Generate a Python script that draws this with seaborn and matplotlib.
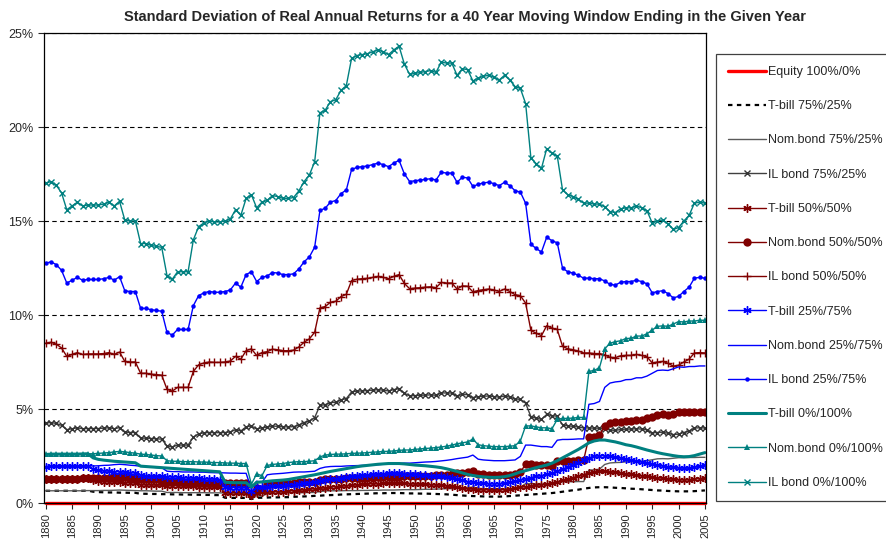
import matplotlib
matplotlib.use("Agg")
import matplotlib.pyplot as plt
import pandas as pd
import seaborn as sns
from matplotlib.ticker import FuncFormatter, MultipleLocator

years = list(range(1880, 2006))

# --- values (percent) ---
equity_100_0 = [
    0, 0, 0, 0, 0, 0, 0, 0, 0, 0,
    0, 0, 0, 0, 0, 0, 0, 0, 0, 0,
    0, 0, 0, 0, 0, 0, 0, 0, 0, 0,
    0, 0, 0, 0, 0, 0, 0, 0, 0, 0,
    0, 0, 0, 0, 0, 0, 0, 0, 0, 0,
    0, 0, 0, 0, 0, 0, 0, 0, 0, 0,
    0, 0, 0, 0, 0, 0, 0, 0, 0, 0,
    0, 0, 0, 0, 0, 0, 0, 0, 0, 0,
    0, 0, 0, 0, 0, 0, 0, 0, 0, 0,
    0, 0, 0, 0, 0, 0, 0, 0, 0, 0,
    0, 0, 0, 0, 0, 0, 0, 0, 0, 0,
    0, 0, 0, 0, 0, 0, 0, 0, 0, 0,
    0, 0, 0, 0, 0, 0,
]

tbill_75_25 = [
    0.65, 0.65, 0.65, 0.65, 0.65, 0.65, 0.65, 0.65, 0.66, 0.60,
    0.58, 0.57, 0.56, 0.56, 0.55, 0.55, 0.54, 0.54, 0.49, 0.49,
    0.48, 0.48, 0.47, 0.47, 0.46, 0.46, 0.45, 0.45, 0.44, 0.44,
    0.43, 0.43, 0.42, 0.42, 0.28, 0.27, 0.27, 0.27, 0.27, 0.21,
    0.28, 0.28, 0.29, 0.30, 0.30, 0.31, 0.31, 0.33, 0.34, 0.35,
    0.36, 0.38, 0.39, 0.41, 0.42, 0.43, 0.45, 0.46, 0.47, 0.48,
    0.49, 0.50, 0.51, 0.52, 0.52, 0.53, 0.53, 0.53, 0.52, 0.51,
    0.51, 0.50, 0.50, 0.49, 0.48, 0.47, 0.46, 0.44, 0.42, 0.40,
    0.38, 0.37, 0.36, 0.35, 0.34, 0.34, 0.34, 0.35, 0.37, 0.39,
    0.41, 0.43, 0.45, 0.47, 0.49, 0.51, 0.53, 0.56, 0.60, 0.64,
    0.68, 0.71, 0.76, 0.80, 0.83, 0.84, 0.84, 0.83, 0.81, 0.80,
    0.78, 0.76, 0.75, 0.73, 0.71, 0.69, 0.67, 0.66, 0.64, 0.63,
    0.62, 0.62, 0.62, 0.63, 0.65, 0.67,
]

nombond_75_25 = [
    0.65, 0.65, 0.65, 0.65, 0.65, 0.65, 0.65, 0.65, 0.66, 0.66,
    0.66, 0.67, 0.67, 0.68, 0.69, 0.68, 0.67, 0.66, 0.65, 0.65,
    0.64, 0.63, 0.63, 0.56, 0.56, 0.56, 0.55, 0.55, 0.55, 0.55,
    0.55, 0.54, 0.54, 0.54, 0.53, 0.53, 0.53, 0.53, 0.53, 0.25,
    0.39, 0.36, 0.50, 0.51, 0.52, 0.53, 0.54, 0.55, 0.55, 0.55,
    0.56, 0.56, 0.61, 0.64, 0.65, 0.65, 0.65, 0.66, 0.66, 0.66,
    0.67, 0.67, 0.68, 0.68, 0.69, 0.69, 0.69, 0.70, 0.71, 0.71,
    0.71, 0.72, 0.73, 0.73, 0.74, 0.75, 0.76, 0.77, 0.79, 0.80,
    0.81, 0.85, 0.78, 0.76, 0.76, 0.75, 0.75, 0.75, 0.76, 0.76,
    0.83, 1.03, 1.03, 1.01, 1.00, 1.00, 0.99, 1.11, 1.13, 1.13,
    1.13, 1.14, 1.14, 1.75, 1.76, 1.80, 2.05, 2.13, 2.15, 2.16,
    2.19, 2.19, 2.22, 2.22, 2.25, 2.30, 2.35, 2.36, 2.35, 2.38,
    2.41, 2.41, 2.42, 2.42, 2.43, 2.43,
]

ilbond_75_25 = [
    4.25, 4.28, 4.23, 4.13, 3.90, 3.95, 4.00, 3.95, 3.96, 3.96,
    3.96, 3.98, 4.00, 3.95, 4.01, 3.76, 3.75, 3.75, 3.45, 3.45,
    3.43, 3.41, 3.40, 3.03, 2.98, 3.08, 3.08, 3.08, 3.50, 3.68,
    3.73, 3.75, 3.74, 3.74, 3.75, 3.78, 3.90, 3.83, 4.05, 4.10,
    3.93, 4.00, 4.03, 4.09, 4.08, 4.05, 4.05, 4.06, 4.15, 4.28,
    4.36, 4.54, 5.19, 5.23, 5.34, 5.36, 5.49, 5.55, 5.91, 5.95,
    5.96, 5.98, 6.00, 6.03, 6.00, 5.96, 6.03, 6.08, 5.84, 5.70,
    5.71, 5.73, 5.74, 5.75, 5.73, 5.86, 5.85, 5.85, 5.69, 5.78,
    5.76, 5.61, 5.65, 5.68, 5.69, 5.66, 5.63, 5.69, 5.63, 5.54,
    5.51, 5.31, 4.59, 4.51, 4.45, 4.71, 4.65, 4.61, 4.16, 4.10,
    4.08, 4.04, 3.99, 3.99, 3.98, 3.98, 3.94, 3.88, 3.86, 3.91,
    3.93, 3.93, 3.95, 3.93, 3.89, 3.73, 3.75, 3.76, 3.71, 3.64,
    3.66, 3.75, 3.83, 3.99, 4.00, 3.99,
]

tbill_50_50 = [
    1.29, 1.30, 1.30, 1.30, 1.30, 1.30, 1.30, 1.31, 1.31, 1.20,
    1.16, 1.14, 1.13, 1.11, 1.10, 1.09, 1.08, 1.07, 0.98, 0.97,
    0.96, 0.95, 0.94, 0.93, 0.92, 0.91, 0.90, 0.89, 0.88, 0.87,
    0.86, 0.85, 0.84, 0.83, 0.55, 0.55, 0.54, 0.54, 0.54, 0.43,
    0.55, 0.56, 0.58, 0.59, 0.60, 0.61, 0.63, 0.65, 0.68, 0.70,
    0.73, 0.75, 0.78, 0.81, 0.84, 0.87, 0.89, 0.92, 0.94, 0.97,
    0.99, 1.00, 1.02, 1.03, 1.04, 1.05, 1.05, 1.05, 1.04, 1.03,
    1.01, 1.00, 0.99, 0.98, 0.96, 0.94, 0.91, 0.88, 0.84, 0.80,
    0.76, 0.73, 0.71, 0.70, 0.69, 0.68, 0.69, 0.70, 0.73, 0.78,
    0.83, 0.86, 0.90, 0.94, 0.98, 1.01, 1.06, 1.13, 1.20, 1.28,
    1.35, 1.43, 1.51, 1.60, 1.65, 1.68, 1.68, 1.65, 1.63, 1.59,
    1.55, 1.53, 1.49, 1.45, 1.41, 1.38, 1.34, 1.31, 1.29, 1.26,
    1.24, 1.23, 1.24, 1.26, 1.30, 1.34,
]

nombond_50_50 = [
    1.29, 1.30, 1.30, 1.30, 1.30, 1.30, 1.30, 1.31, 1.31, 1.31,
    1.32, 1.33, 1.34, 1.36, 1.37, 1.36, 1.34, 1.33, 1.30, 1.29,
    1.28, 1.26, 1.25, 1.13, 1.11, 1.11, 1.10, 1.10, 1.10, 1.09,
    1.09, 1.08, 1.08, 1.08, 1.07, 1.06, 1.06, 1.05, 1.05, 0.50,
    0.78, 0.73, 1.00, 1.03, 1.04, 1.05, 1.08, 1.09, 1.10, 1.10,
    1.11, 1.13, 1.23, 1.28, 1.29, 1.30, 1.30, 1.31, 1.32, 1.33,
    1.33, 1.34, 1.35, 1.36, 1.37, 1.38, 1.39, 1.40, 1.41, 1.41,
    1.43, 1.44, 1.45, 1.46, 1.48, 1.49, 1.51, 1.54, 1.58, 1.60,
    1.63, 1.70, 1.55, 1.53, 1.51, 1.50, 1.50, 1.50, 1.51, 1.53,
    1.65, 2.05, 2.05, 2.03, 2.00, 2.00, 1.98, 2.23, 2.25, 2.25,
    2.26, 2.28, 2.28, 3.50, 3.53, 3.60, 4.10, 4.25, 4.29, 4.32,
    4.38, 4.38, 4.44, 4.44, 4.50, 4.60, 4.70, 4.71, 4.70, 4.76,
    4.83, 4.82, 4.84, 4.84, 4.86, 4.86,
]

ilbond_50_50 = [
    8.50, 8.55, 8.45, 8.25, 7.80, 7.90, 8.00, 7.90, 7.93, 7.93,
    7.93, 7.95, 8.00, 7.90, 8.03, 7.53, 7.50, 7.50, 6.90, 6.90,
    6.85, 6.83, 6.80, 6.05, 5.95, 6.15, 6.15, 6.15, 7.00, 7.35,
    7.45, 7.50, 7.48, 7.48, 7.50, 7.55, 7.80, 7.65, 8.10, 8.20,
    7.85, 8.00, 8.05, 8.18, 8.15, 8.10, 8.10, 8.13, 8.30, 8.55,
    8.73, 9.08, 10.38, 10.45, 10.68, 10.73, 10.98, 11.10, 11.83, 11.90,
    11.93, 11.95, 12.00, 12.05, 12.00, 11.93, 12.05, 12.15, 11.68, 11.40,
    11.43, 11.45, 11.48, 11.50, 11.45, 11.73, 11.70, 11.70, 11.38, 11.55,
    11.53, 11.23, 11.30, 11.35, 11.38, 11.33, 11.25, 11.38, 11.25, 11.08,
    11.03, 10.63, 9.18, 9.03, 8.90, 9.43, 9.30, 9.23, 8.33, 8.20,
    8.15, 8.08, 7.98, 7.98, 7.95, 7.95, 7.88, 7.75, 7.73, 7.83,
    7.85, 7.85, 7.90, 7.85, 7.78, 7.45, 7.50, 7.53, 7.43, 7.28,
    7.33, 7.50, 7.65, 7.98, 8.00, 7.98,
]

tbill_25_75 = [
    1.94, 1.95, 1.95, 1.95, 1.95, 1.95, 1.95, 1.96, 1.97, 1.80,
    1.74, 1.71, 1.69, 1.67, 1.65, 1.64, 1.62, 1.61, 1.47, 1.46,
    1.44, 1.43, 1.41, 1.40, 1.38, 1.37, 1.35, 1.34, 1.32, 1.31,
    1.29, 1.28, 1.26, 1.25, 0.83, 0.82, 0.81, 0.81, 0.81, 0.64,
    0.83, 0.84, 0.86, 0.89, 0.90, 0.92, 0.94, 0.98, 1.01, 1.05,
    1.09, 1.13, 1.17, 1.22, 1.26, 1.30, 1.34, 1.37, 1.41, 1.45,
    1.48, 1.50, 1.52, 1.55, 1.56, 1.58, 1.58, 1.58, 1.56, 1.54,
    1.52, 1.50, 1.49, 1.46, 1.44, 1.41, 1.37, 1.31, 1.26, 1.20,
    1.14, 1.10, 1.07, 1.04, 1.03, 1.02, 1.03, 1.05, 1.10, 1.16,
    1.24, 1.29, 1.35, 1.41, 1.46, 1.52, 1.59, 1.69, 1.80, 1.91,
    2.03, 2.14, 2.27, 2.40, 2.48, 2.51, 2.51, 2.48, 2.44, 2.39,
    2.33, 2.29, 2.24, 2.18, 2.12, 2.06, 2.01, 1.97, 1.93, 1.89,
    1.86, 1.85, 1.85, 1.89, 1.95, 2.01,
]

nombond_25_75 = [
    1.94, 1.95, 1.95, 1.95, 1.95, 1.95, 1.95, 1.96, 1.97, 1.97,
    1.98, 2.00, 2.01, 2.04, 2.06, 2.04, 2.01, 1.99, 1.95, 1.94,
    1.91, 1.89, 1.88, 1.69, 1.67, 1.67, 1.65, 1.65, 1.65, 1.64,
    1.64, 1.62, 1.61, 1.61, 1.60, 1.59, 1.59, 1.58, 1.58, 0.75,
    1.16, 1.09, 1.50, 1.54, 1.56, 1.58, 1.61, 1.64, 1.65, 1.65,
    1.67, 1.69, 1.84, 1.91, 1.94, 1.95, 1.95, 1.97, 1.98, 1.99,
    2.00, 2.01, 2.03, 2.04, 2.06, 2.06, 2.08, 2.10, 2.12, 2.12,
    2.14, 2.16, 2.18, 2.19, 2.21, 2.24, 2.27, 2.31, 2.36, 2.40,
    2.44, 2.55, 2.33, 2.29, 2.27, 2.25, 2.25, 2.25, 2.27, 2.29,
    2.48, 3.08, 3.08, 3.04, 3.00, 3.00, 2.96, 3.34, 3.38, 3.38,
    3.39, 3.41, 3.41, 5.25, 5.29, 5.40, 6.15, 6.38, 6.44, 6.47,
    6.56, 6.57, 6.66, 6.66, 6.75, 6.90, 7.05, 7.07, 7.05, 7.14,
    7.24, 7.22, 7.26, 7.26, 7.29, 7.29,
]

ilbond_25_75 = [
    12.75, 12.83, 12.68, 12.38, 11.70, 11.85, 12.00, 11.85, 11.89, 11.89,
    11.89, 11.93, 12.00, 11.85, 12.04, 11.29, 11.25, 11.25, 10.35, 10.35,
    10.28, 10.24, 10.20, 9.08, 8.93, 9.23, 9.23, 9.23, 10.50, 11.03,
    11.18, 11.25, 11.21, 11.21, 11.25, 11.33, 11.70, 11.48, 12.15, 12.30,
    11.78, 12.00, 12.08, 12.26, 12.23, 12.15, 12.15, 12.19, 12.45, 12.83,
    13.09, 13.61, 15.56, 15.68, 16.01, 16.09, 16.46, 16.65, 17.74, 17.85,
    17.89, 17.93, 18.00, 18.08, 18.00, 17.89, 18.08, 18.23, 17.51, 17.10,
    17.14, 17.18, 17.21, 17.25, 17.18, 17.59, 17.55, 17.55, 17.06, 17.33,
    17.29, 16.84, 16.95, 17.03, 17.06, 16.99, 16.88, 17.06, 16.88, 16.61,
    16.54, 15.94, 13.76, 13.54, 13.35, 14.14, 13.95, 13.84, 12.49, 12.30,
    12.23, 12.11, 11.96, 11.96, 11.93, 11.93, 11.81, 11.63, 11.59, 11.74,
    11.78, 11.78, 11.85, 11.78, 11.66, 11.18, 11.25, 11.29, 11.14, 10.91,
    10.99, 11.25, 11.48, 11.96, 12.00, 11.96,
]

tbill_0_100 = [
    2.58, 2.60, 2.60, 2.60, 2.60, 2.60, 2.60, 2.61, 2.62, 2.40,
    2.32, 2.28, 2.25, 2.22, 2.20, 2.18, 2.16, 2.14, 1.96, 1.94,
    1.92, 1.90, 1.88, 1.86, 1.84, 1.82, 1.80, 1.78, 1.76, 1.74,
    1.72, 1.70, 1.68, 1.66, 1.10, 1.09, 1.08, 1.08, 1.08, 0.85,
    1.10, 1.12, 1.15, 1.18, 1.20, 1.22, 1.25, 1.30, 1.35, 1.40,
    1.45, 1.50, 1.56, 1.62, 1.68, 1.73, 1.78, 1.83, 1.88, 1.93,
    1.97, 2.00, 2.03, 2.06, 2.08, 2.10, 2.10, 2.10, 2.08, 2.05,
    2.02, 2.00, 1.98, 1.95, 1.92, 1.88, 1.82, 1.75, 1.68, 1.60,
    1.52, 1.46, 1.42, 1.39, 1.37, 1.36, 1.37, 1.40, 1.46, 1.55,
    1.65, 1.72, 1.80, 1.88, 1.95, 2.02, 2.12, 2.25, 2.40, 2.55,
    2.70, 2.85, 3.02, 3.20, 3.30, 3.35, 3.35, 3.30, 3.25, 3.18,
    3.10, 3.05, 2.98, 2.90, 2.82, 2.75, 2.68, 2.62, 2.57, 2.52,
    2.48, 2.46, 2.47, 2.52, 2.60, 2.68,
]

nombond_0_100 = [
    2.58, 2.60, 2.60, 2.60, 2.60, 2.60, 2.60, 2.61, 2.62, 2.62,
    2.64, 2.66, 2.68, 2.72, 2.74, 2.72, 2.68, 2.65, 2.60, 2.58,
    2.55, 2.52, 2.50, 2.25, 2.22, 2.22, 2.20, 2.20, 2.20, 2.18,
    2.18, 2.16, 2.15, 2.15, 2.13, 2.12, 2.12, 2.10, 2.10, 1.00,
    1.55, 1.45, 2.00, 2.05, 2.08, 2.10, 2.15, 2.18, 2.20, 2.20,
    2.22, 2.25, 2.45, 2.55, 2.58, 2.60, 2.60, 2.62, 2.64, 2.65,
    2.66, 2.68, 2.70, 2.72, 2.74, 2.75, 2.77, 2.80, 2.82, 2.82,
    2.85, 2.88, 2.90, 2.92, 2.95, 2.98, 3.02, 3.08, 3.15, 3.20,
    3.25, 3.40, 3.10, 3.05, 3.02, 3.00, 3.00, 3.00, 3.02, 3.05,
    3.30, 4.10, 4.10, 4.05, 4.00, 4.00, 3.95, 4.45, 4.50, 4.50,
    4.52, 4.55, 4.55, 7.00, 7.05, 7.20, 8.20, 8.50, 8.58, 8.63,
    8.75, 8.76, 8.88, 8.88, 9.00, 9.20, 9.40, 9.42, 9.40, 9.52,
    9.65, 9.63, 9.68, 9.68, 9.72, 9.72,
]

ilbond_0_100 = [
    17.00, 17.10, 16.90, 16.50, 15.60, 15.80, 16.00, 15.80, 15.85, 15.85,
    15.85, 15.90, 16.00, 15.80, 16.05, 15.05, 15.00, 15.00, 13.80, 13.80,
    13.70, 13.65, 13.60, 12.10, 11.90, 12.30, 12.30, 12.30, 14.00, 14.70,
    14.90, 15.00, 14.95, 14.95, 15.00, 15.10, 15.60, 15.30, 16.20, 16.40,
    15.70, 16.00, 16.10, 16.35, 16.30, 16.20, 16.20, 16.25, 16.60, 17.10,
    17.45, 18.15, 20.75, 20.90, 21.35, 21.45, 21.95, 22.20, 23.65, 23.80,
    23.85, 23.90, 24.00, 24.10, 24.00, 23.85, 24.10, 24.30, 23.35, 22.80,
    22.85, 22.90, 22.95, 23.00, 22.90, 23.45, 23.40, 23.40, 22.75, 23.10,
    23.05, 22.45, 22.60, 22.70, 22.75, 22.65, 22.50, 22.75, 22.50, 22.15,
    22.05, 21.25, 18.35, 18.05, 17.80, 18.85, 18.60, 18.45, 16.65, 16.40,
    16.30, 16.15, 15.95, 15.95, 15.90, 15.90, 15.75, 15.50, 15.45, 15.65,
    15.70, 15.70, 15.80, 15.70, 15.55, 14.90, 15.00, 15.05, 14.85, 14.55,
    14.65, 15.00, 15.30, 15.95, 16.00, 15.95,
]

teal = "#008080"
blue = "#0000FF"
maroon = "#800000"
asterisk = (6, 2, 0)

series = [
    ("Equity 100%/0%", equity_100_0, dict(color="#FF0000", lw=2.4)),
    ("T-bill 75%/25%", tbill_75_25, dict(color="black", lw=1.6, ls=(0, (2, 2)))),
    ("Nom.bond 75%/25%", nombond_75_25, dict(color="#5a5a5a", lw=1.0)),
    ("IL bond 75%/25%", ilbond_75_25, dict(color="#404040", lw=1.0, marker="x", ms=5, mew=1.0, mec="#333333")),
    ("T-bill 50%/50%", tbill_50_50, dict(color=maroon, lw=1.0, marker=asterisk, ms=6, mew=1.0, mec=maroon)),
    ("Nom.bond 50%/50%", nombond_50_50, dict(color=maroon, lw=1.0, marker="o", ms=6, mew=0, mec=maroon)),
    ("IL bond 50%/50%", ilbond_50_50, dict(color=maroon, lw=1.0, marker="+", ms=6, mew=1.0, mec=maroon)),
    ("T-bill 25%/75%", tbill_25_75, dict(color=blue, lw=1.0, marker=asterisk, ms=6, mew=1.0, mec=blue)),
    ("Nom.bond 25%/75%", nombond_25_75, dict(color=blue, lw=1.0)),
    ("IL bond 25%/75%", ilbond_25_75, dict(color=blue, lw=1.0, marker="o", ms=3.2, mew=0, mec=blue)),
    ("T-bill 0%/100%", tbill_0_100, dict(color=teal, lw=2.2)),
    ("Nom.bond 0%/100%", nombond_0_100, dict(color=teal, lw=1.0, marker="^", ms=4, mew=0, mec=teal)),
    ("IL bond 0%/100%", ilbond_0_100, dict(color=teal, lw=1.0, marker="x", ms=5, mew=1.0, mec=teal)),
]

sns.set_style("white")
plt.rcParams["font.family"] = ["Liberation Sans", "DejaVu Sans"]

fig = plt.figure(figsize=(8.87, 5.39), dpi=100)
ax = fig.add_axes([44 / 887, 36 / 539, 662 / 887, 470 / 539])

for label, vals, style in series:
    df = pd.DataFrame({"year": years, "sd": vals})
    sns.lineplot(data=df, x="year", y="sd", ax=ax, label=label,
                 clip_on=not label.startswith("Equity"), **style)

ax.set_xlim(1879.68, 2005.2)
ax.set_ylim(0, 25)
ax.yaxis.set_major_locator(MultipleLocator(5))
ax.yaxis.set_major_formatter(FuncFormatter(lambda v, p: f"{v:.0f}%"))
ax.set_xticks(list(range(1880, 2006, 5)))
ax.tick_params(axis="x", labelrotation=90, labelsize=8, direction="out", length=4, width=0.8, bottom=True)
ax.tick_params(axis="y", labelsize=9, direction="out", length=4, width=0.8, left=True)
ax.set_xlabel("")
ax.set_ylabel("")
ax.grid(axis="y", color="black", ls=(0, (4, 3)), lw=0.8)
ax.grid(axis="x", visible=False)
for sp in ax.spines.values():
    sp.set_color("black")
    sp.set_linewidth(0.9)

handles, labels = ax.get_legend_handles_labels()
ax.get_legend().remove()
leg = fig.legend(handles, labels, loc="upper left", bbox_to_anchor=(716 / 887, 1 - 54 / 539),
                 borderaxespad=0, fontsize=9, labelspacing=1.78, handlelength=3.05,
                 handletextpad=0.15, borderpad=0.95, frameon=True, fancybox=False, framealpha=1)
leg.get_frame().set_edgecolor("#404040")
leg.get_frame().set_linewidth(0.9)

fig.text(465 / 887, 1 - 17 / 539,
         "Standard Deviation of Real Annual Returns for a 40 Year Moving Window Ending in the Given Year",
         ha="center", va="center", fontsize=10.5, fontweight="bold")

fig.savefig("out.png", dpi=100)
